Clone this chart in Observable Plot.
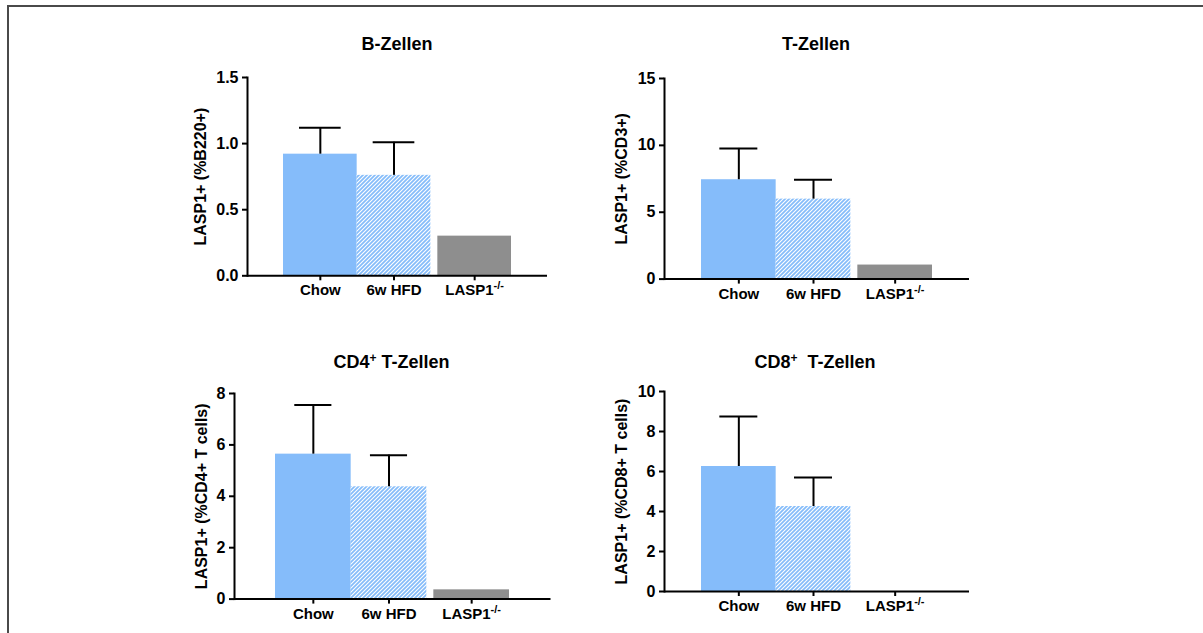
<!DOCTYPE html>
<html><head><meta charset="utf-8">
<script src="https://cdn.jsdelivr.net/npm/d3@7"></script>
<script src="https://cdn.jsdelivr.net/npm/@observablehq/plot@0.6"></script>
<style>
body{margin:0;background:#fff;font-family:"Liberation Sans",Arial,sans-serif;}
#page{position:relative;width:1203px;height:633px;overflow:hidden;background:#fff;}
#frame{position:absolute;left:7px;top:5px;width:1210px;height:640px;border-top:2px solid #4a4a4a;border-left:2px solid #4a4a4a;}
.title{position:absolute;font-weight:bold;font-size:18px;line-height:18px;white-space:pre;transform:translateX(-50%);color:#000;}
.title sup{font-size:12px;line-height:0;vertical-align:0.5em;}
.panel{position:absolute;}
</style></head>
<body>
<div id="page">
<div id="frame"></div>
<svg width="0" height="0" style="position:absolute"><defs>
<pattern id="hatch" patternUnits="userSpaceOnUse" width="4" height="4">
<rect width="4" height="4" fill="#85BCFA"/>
<path d="M-1,1 L1,-1 M0,4 L4,0 M3,5 L5,3" stroke="#fff" stroke-width="1.1"/>
</pattern></defs></svg>
</div>
<script>
// ---- data ----
const groups = ["Chow", "6w HFD", "LASP1-/-"];
const bZellenMean = [0.92, 0.76, 0.30];
const bZellenErr  = [0.20, 0.25, 0];
const tZellenMean = [7.43, 5.98, 1.05];
const tZellenErr  = [2.34, 1.45, 0];
const cd4Mean = [5.64, 4.37, 0.36];
const cd4Err  = [1.91, 1.23, 0];
const cd8Mean = [6.25, 4.25, 0];
const cd8Err  = [2.50, 1.45, 0];
const bTicks = [0, 0.5, 1.0, 1.5];
const tTicks = [0, 5, 10, 15];
const cd4Ticks = [0, 2, 4, 6, 8];
const cd8Ticks = [0, 2, 4, 6, 8, 10];
const titles = ["B-Zellen", "T-Zellen", "CD4<sup>+</sup> T-Zellen", "CD8<sup>+</sup>  T-Zellen"];
const yLabels = ["LASP1+ (%B220+)", "LASP1+ (%CD3+)", "LASP1+ (%CD4+ T cells)", "LASP1+ (%CD8+ T cells)"];

const colors = ["#85BCFA", "url(#hatch)", "#8E8E8E"];

// ---- layout ----
const panels = [
  {means: bZellenMean, errs: bZellenErr, ticks: bTicks, fmt: d3.format(".1f"), title: titles[0], label: yLabels[0],
   axisX: 247, axisRight: 547, span: 229, yTop: 76.7, yZero: 275, cap: 42, labelOffset: 53, titleX: 397, titleBase: 50},
  {means: tZellenMean, errs: tZellenErr, ticks: tTicks, fmt: d3.format("d"), title: titles[1], label: yLabels[1],
   axisX: 663.5, axisRight: 968.5, span: 231, yTop: 77.7, yZero: 278.3, cap: 38, labelOffset: 49, titleX: 816, titleBase: 50},
  {means: cd4Mean, errs: cd4Err, ticks: cd4Ticks, fmt: d3.format("d"), title: titles[2], label: yLabels[2],
   axisX: 233.5, axisRight: 550, span: 236.7, yTop: 392.7, yZero: 598.3, cap: 38, labelOffset: 39, titleX: 391.5, titleBase: 368.3},
  {means: cd8Mean, errs: cd8Err, ticks: cd8Ticks, fmt: d3.format("d"), title: titles[3], label: yLabels[3],
   axisX: 663.5, axisRight: 968.5, span: 231, yTop: 391, yZero: 591, cap: 38, labelOffset: 49, titleX: 815, titleBase: 368.3}
];
const GAP = 7; // white gap before the LASP1-/- bar

const page = document.getElementById("page");
const ML = 70, MR = 12, MT = 10, MB = 45;
const ns = "http://www.w3.org/2000/svg";

for (const p of panels) {
  const data = groups.map((g, i) => ({group: g, mean: p.means[i], err: p.errs[i]}));
  const plotW = p.axisRight - p.axisX;
  const plotH = p.yZero - p.yTop;
  const b = p.span / 3;
  const w = (p.span - GAP) / 3;
  const po = ((plotW - p.span) / 2) / b;
  const starts = [0, w, 2 * w + GAP];
  const marks = [];
  groups.forEach((g, i) => {
    const insetLeft = starts[i] - i * b;
    const insetRight = (i + 1) * b - (starts[i] + w);
    const shift = starts[i] + w / 2 - (i + 0.5) * b;
    const sub = data.filter(d => d.group === g);
    const err = sub.filter(d => d.err > 0);
    const capInset = (b - p.cap) / 2;
    marks.push(
      Plot.barY(sub, {x: "group", y: "mean", fill: "group", insetLeft, insetRight}),
      Plot.ruleX(err, {x: "group", y1: "mean", y2: d => d.mean + d.err, stroke: "#000", strokeWidth: 2, dx: shift}),
      Plot.tickY(err, {x: "group", y: d => d.mean + d.err, stroke: "#000", strokeWidth: 2, insetLeft: capInset, insetRight: capInset, dx: shift}),
      Plot.axisX({ticks: [g], tickSize: 5, tickPadding: 4, strokeWidth: 2, fontSize: 15, fontWeight: "bold", label: null, dx: shift})
    );
  });
  marks.push(
    Plot.axisY({ticks: p.ticks, tickFormat: p.fmt, tickSize: 5, tickPadding: 4, strokeWidth: 2,
      fontSize: 16, fontWeight: "bold", label: p.label, labelAnchor: "center", labelOffset: p.labelOffset, labelArrow: "none"}),
    Plot.ruleY([0], {strokeWidth: 2, stroke: "#000"}),
    Plot.frame({anchor: "left", strokeWidth: 2, stroke: "#000"})
  );
  const chart = Plot.plot({
    width: plotW + ML + MR,
    height: plotH + MT + MB,
    marginLeft: ML, marginRight: MR, marginTop: MT, marginBottom: MB,
    style: {fontFamily: '"Liberation Sans", Arial, sans-serif', color: "#000", background: "transparent", overflow: "visible"},
    x: {domain: groups, paddingInner: 0, paddingOuter: po, axis: null},
    y: {domain: [p.ticks[0], p.ticks[p.ticks.length - 1]], axis: null},
    color: {domain: groups, range: colors},
    marks
  });
  for (const t of chart.querySelectorAll("text")) {
    if (t.textContent === "LASP1-/-") {
      t.textContent = "LASP1";
      const ts = document.createElementNS(ns, "tspan");
      ts.setAttribute("dy", "-6");
      ts.setAttribute("font-size", "11");
      ts.textContent = "-/-";
      t.appendChild(ts);
    }
  }
  const wrap = document.createElement("div");
  wrap.className = "panel";
  wrap.style.left = (p.axisX - ML) + "px";
  wrap.style.top = (p.yTop - MT) + "px";
  wrap.appendChild(chart);
  page.appendChild(wrap);

  const t = document.createElement("div");
  t.className = "title";
  t.innerHTML = p.title;
  t.style.left = p.titleX + "px";
  t.style.top = (p.titleBase - 15.2) + "px";
  page.appendChild(t);
}
</script>
</body></html>
